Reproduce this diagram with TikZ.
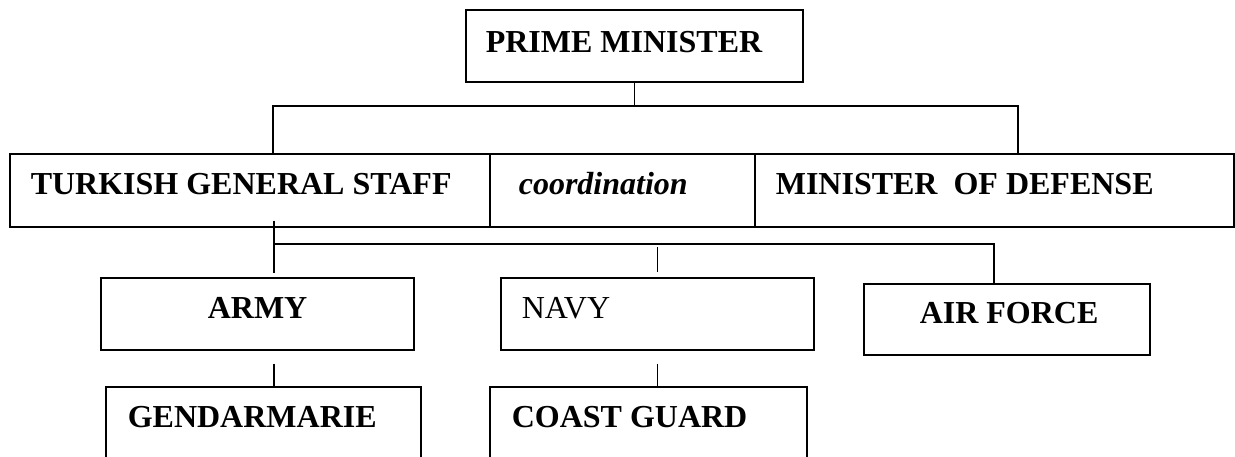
\documentclass[tikz,border=0pt]{standalone}
\usepackage{fontspec}
\setmainfont{Liberation Serif}
\usetikzlibrary{calc}
\begin{document}
\begin{tikzpicture}[x=1pt,y=-1pt,
  box/.style={draw, line width=1.6pt, inner sep=0pt, anchor=north west,
    font=\bfseries\fontsize{32}{38}\selectfont},
  link/.style={line width=1.6pt},
  thicklink/.style={line width=2.6pt}]
\useasboundingbox (0,0) rectangle (1235,457);
\clip (0,0) rectangle (1235,457);
% boxes
\node[box, text height=43pt, text depth=29pt] (pm) at (465,9)
  {\makebox[337pt][l]{\hspace{20pt}PRIME MINISTER}};
\node[box, text height=41pt, text depth=32pt] (tgs) at (9,153)
  {\makebox[480pt][l]{\hspace{21pt}TURKISH GENERAL STAFF}};
\node[box, text height=41pt, text depth=32pt, font=\bfseries\itshape\fontsize{32}{38}\selectfont] (coord) at (489,153)
  {\makebox[265pt][l]{\hspace{29pt}coordination}};
\node[box, text height=41pt, text depth=32pt] (mod) at (754,153)
  {\makebox[479pt][l]{\hspace{21pt}MINISTER\ \ OF DEFENSE}};
\node[box, text height=41pt, text depth=31pt] (army) at (100,277)
  {\makebox[313pt][l]{\hspace{107pt}ARMY}};
\node[box, text height=41pt, text depth=31pt, font=\mdseries\fontsize{32}{38}\selectfont] (navy) at (500,277)
  {\makebox[313pt][l]{\hspace{21pt}NAVY}};
\node[box, text height=40pt, text depth=31pt] (air) at (863,283)
  {\makebox[286pt][l]{\hspace{56pt}AIR FORCE}};
\node[box, text height=41pt, text depth=43pt] (gend) at (105,386)
  {\makebox[315pt][l]{\hspace{22pt}GENDARMARIE}};
\node[box, text height=41pt, text depth=43pt] (coast) at (489,386)
  {\makebox[317pt][l]{\hspace{22pt}COAST GUARD}};
% bus coordinates
\coordinate (b1L) at (273,106);
\coordinate (b1R) at (1018,106);
\coordinate (b2L) at (274,244);
\coordinate (b2R) at (994,244);
% connectors
\draw[link] (pm.south) -- (pm.south |- b1L);
\draw[link] (b1L |- tgs.north) -- (b1L) -- (b1R) -- (b1R |- mod.north);
\draw[link] ($(b2L |- tgs.south)+(0,-7)$) -- (b2L) -- (b2R) -- (b2R |- air.north);
\draw[thicklink] (b2L) -- ($(b2L |- army.north)+(0,-4)$);
\draw[link] ($(navy.north)+(0,-30)$) -- ($(navy.north)+(0,-5)$);
\draw[link] ($(b2L |- army.south)+(0,13)$) -- (b2L |- gend.north);
\draw[link] ($(navy.south)+(0,13)$) -- (navy.south |- coast.north);
\end{tikzpicture}
\end{document}
